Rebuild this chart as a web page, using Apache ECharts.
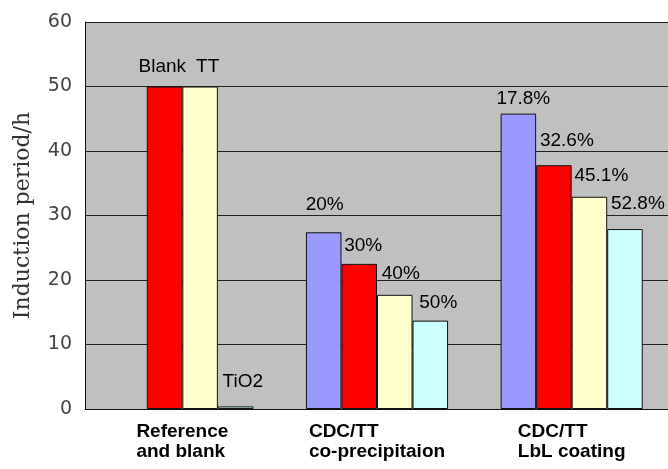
<!DOCTYPE html>
<html>
<head>
<meta charset="utf-8">
<script src="https://cdn.jsdelivr.net/npm/echarts@6/dist/echarts.min.js"></script>
<style>
  html, body { margin: 0; padding: 0; background: #ffffff; }
  #chart { width: 668px; height: 469px; }
</style>
</head>
<body>
<div id="chart"></div>
<script>
// Groups along the x axis
var categories = ['Reference\nand blank', 'CDC/TT\nco-precipitaion', 'CDC/TT\nLbL coating'];

// Induction period (h) per bar slot in each group
var blueValues   = [null, 27.4, 45.8];
var redValues    = [50.0, 22.5, 37.8];
var yellowValues = [50.0, 17.7, 32.9];
var cyanValues   = [0.4, 13.7, 27.9];

// Text shown above each bar
var blueLabels   = ['', '20%', '17.8%'];
var redLabels    = ['Blank', '30%', '32.6%'];
var yellowLabels = ['TT', '40%', '45.1%'];
var cyanLabels   = ['TiO2', '50%', '52.8%'];

// Y axis ticks
var yMin = 0, yMax = 60, yStep = 10;

// Label placement relative to each bar's top centre: [dx, dy] in px
var blueOffsets   = [[0, 0], [-18, -28], [-22, -15]];
var redOffsets    = [[-26, -20], [-15, -18], [-14, -24]];
var yellowOffsets = [[-4, -20], [-13, -21], [-15, -21]];
var cyanOffsets   = [[-13, -25], [-11, -18], [-14, -25]];

function buildSeries(name, color, values, labels, offsets) {
  return {
    name: name,
    type: 'bar',
    barGap: '0%',
    barCategoryGap: '27%',
    itemStyle: { color: color, borderColor: '#111', borderWidth: 1 },
    data: values.map(function (v, i) {
      return {
        value: v,
        label: {
          show: labels[i] !== '',
          formatter: labels[i],
          offset: offsets[i]
        }
      };
    }),
    label: {
      position: 'top',
      distance: 0,
      align: 'left',
      verticalAlign: 'middle',
      color: '#000',
      fontFamily: 'Liberation Sans, Arial, sans-serif',
      fontSize: 19
    }
  };
}

var chart = echarts.init(document.getElementById('chart'), null, { renderer: 'canvas' });

chart.setOption({
  animation: false,
  backgroundColor: '#ffffff',
  grid: {
    left: 85, right: -1, top: 22, bottom: 60,
    containLabel: false,
    outerBoundsMode: 'none',
    show: true,
    backgroundColor: '#c0c0c0',
    borderWidth: 0
  },
  xAxis: {
    type: 'category',
    data: categories,
    axisLine: { lineStyle: { color: '#111', width: 1 } },
    axisTick: { show: false },
    axisLabel: {
      margin: 13,
      formatter: function (v) {
        return v.split('\n').map(function (s) { return '{a|' + s + '}'; }).join('\n');
      },
      rich: {
        a: {
          align: 'left',
          fontFamily: 'Liberation Sans, Arial, sans-serif',
          fontWeight: 'bold',
          fontSize: 19,
          lineHeight: 20,
          color: '#000'
        }
      }
    }
  },
  yAxis: {
    type: 'value',
    min: yMin, max: yMax, interval: yStep,
    name: 'Induction period/h',
    nameLocation: 'middle',
    nameGap: 51,
    nameMoveOverlap: false,
    nameTextStyle: {
      fontFamily: 'DejaVu Serif, serif',
      fontSize: 22,
      color: '#333'
    },
    axisLine: { show: true, lineStyle: { color: '#111', width: 1 } },
    axisTick: { show: false },
    axisLabel: {
      margin: 13,
      fontFamily: 'DejaVu Sans, sans-serif',
      fontSize: 19,
      color: '#444'
    },
    splitLine: { lineStyle: { color: '#222', width: 1 } }
  },
  series: [
    buildSeries('blue', '#9999ff', blueValues, blueLabels, blueOffsets),
    buildSeries('red', '#ff0000', redValues, redLabels, redOffsets),
    buildSeries('yellow', '#ffffcc', yellowValues, yellowLabels, yellowOffsets),
    buildSeries('cyan', '#ccffff', cyanValues, cyanLabels, cyanOffsets)
  ]
});
</script>
</body>
</html>
